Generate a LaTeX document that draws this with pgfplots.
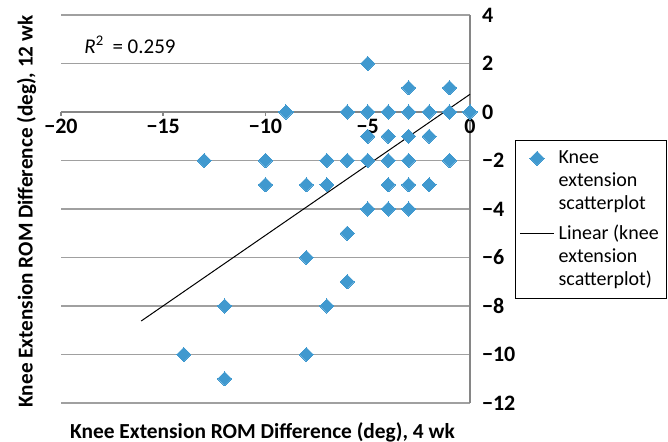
\documentclass[border=0pt]{standalone}
\usepackage{pgfplots}
\pgfplotsset{compat=1.18}
\usepackage{fontspec}
\setmainfont{Carlito}
\newfontfamily\tickfont{Carlito}[UprightFont=* Bold]
\definecolor{mblue}{RGB}{64,153,207}
\definecolor{gridg}{RGB}{160,160,160}
\definecolor{axg}{RGB}{134,134,134}
\newcommand{\tk}[1]{\mbox{\tickfont\fontsize{11}{12}\selectfont #1}}
\begin{document}
\begin{tikzpicture}
\useasboundingbox (0pt,0pt) rectangle (334pt,-221pt);
\begin{axis}[
  at={(30.5pt,-201.5pt)}, anchor=south west,
  scale only axis, width=204.5pt, height=194pt,
  xmin=-20, xmax=0, ymin=-12, ymax=4,
  axis x line=middle, axis y line=right,
  axis line style={-, draw=axg, line width=0.8pt},
  hide obscured x ticks=false, hide obscured y ticks=false,
  xtick={-20,-15,-10,-5,0},
  xticklabels={\tk{−20},\tk{−15},\tk{−10},\tk{−5},\tk{0}},
  ytick={-12,-10,-8,-6,-4,-2,0,2,4},
  yticklabels={\tk{−12},\tk{−10},\tk{−8},\tk{−6},\tk{−4},\tk{−2},\tk{0},\tk{2},\tk{4}},
  xticklabel style={yshift=2pt, text=black},
  yticklabel style={text=black, xshift=0.5pt},
  xtick style={draw=axg, line width=0.8pt},
  tick align=outside, major tick length=2pt,
  ytick style={draw=none},
  ymajorgrids, grid style={draw=gridg, line width=0.8pt},
  clip=false,
  legend style={at={(axis description cs:1.11,0.678)}, anchor=north west,
    draw=black, line width=0.5pt, font=\fontsize{10}{11.6}\selectfont,
    cells={align=left}, inner xsep=2pt, inner ysep=3pt, row sep=2pt},
  legend cell align=left,
  legend image post style={yshift=11.6pt},
]
\addplot[only marks, mark=square*, mark size=2.5pt, mark options={rotate=45, fill=mblue, draw=mblue, line width=0pt}, color=mblue]
coordinates {
(-5,2) (-3,1) (-1,1)
(-9,0) (-6,0) (-5,0) (-4,0) (-3,0) (-2,0) (-1,0) (0,0)
(-5,-1) (-4,-1) (-3,-1) (-2,-1)
(-13,-2) (-10,-2) (-7,-2) (-6,-2) (-5,-2) (-4,-2) (-3,-2) (-1,-2)
(-10,-3) (-8,-3) (-7,-3) (-4,-3) (-3,-3) (-2,-3)
(-5,-4) (-4,-4) (-3,-4)
(-6,-5) (-8,-6) (-6,-7) (-12,-8) (-7,-8) (-14,-10) (-8,-10) (-12,-11)
};
\addlegendentry{Knee\\extension\\scatterplot}
\addplot[black, line width=0.5pt, mark=none] coordinates {(-16.08,-8.62) (0,0.73)};
\addlegendentry{Linear (knee\\extension\\scatterplot)}
\node[anchor=west, font=\fontsize{10.5}{12}\selectfont] at (axis cs:-19.2,2.76) {\textit{R}\textsuperscript{2}\, = 0.259};
\end{axis}
\node[rotate=90, font=\fontsize{10.6}{12}\selectfont\bfseries] at (13.25pt,-105.75pt) {Knee Extension ROM Difference (deg), 12 wk};
\node[font=\fontsize{10.7}{12}\selectfont\bfseries] at (131.25pt,-216pt) {Knee Extension ROM Difference (deg), 4 wk};
\end{tikzpicture}
\end{document}
